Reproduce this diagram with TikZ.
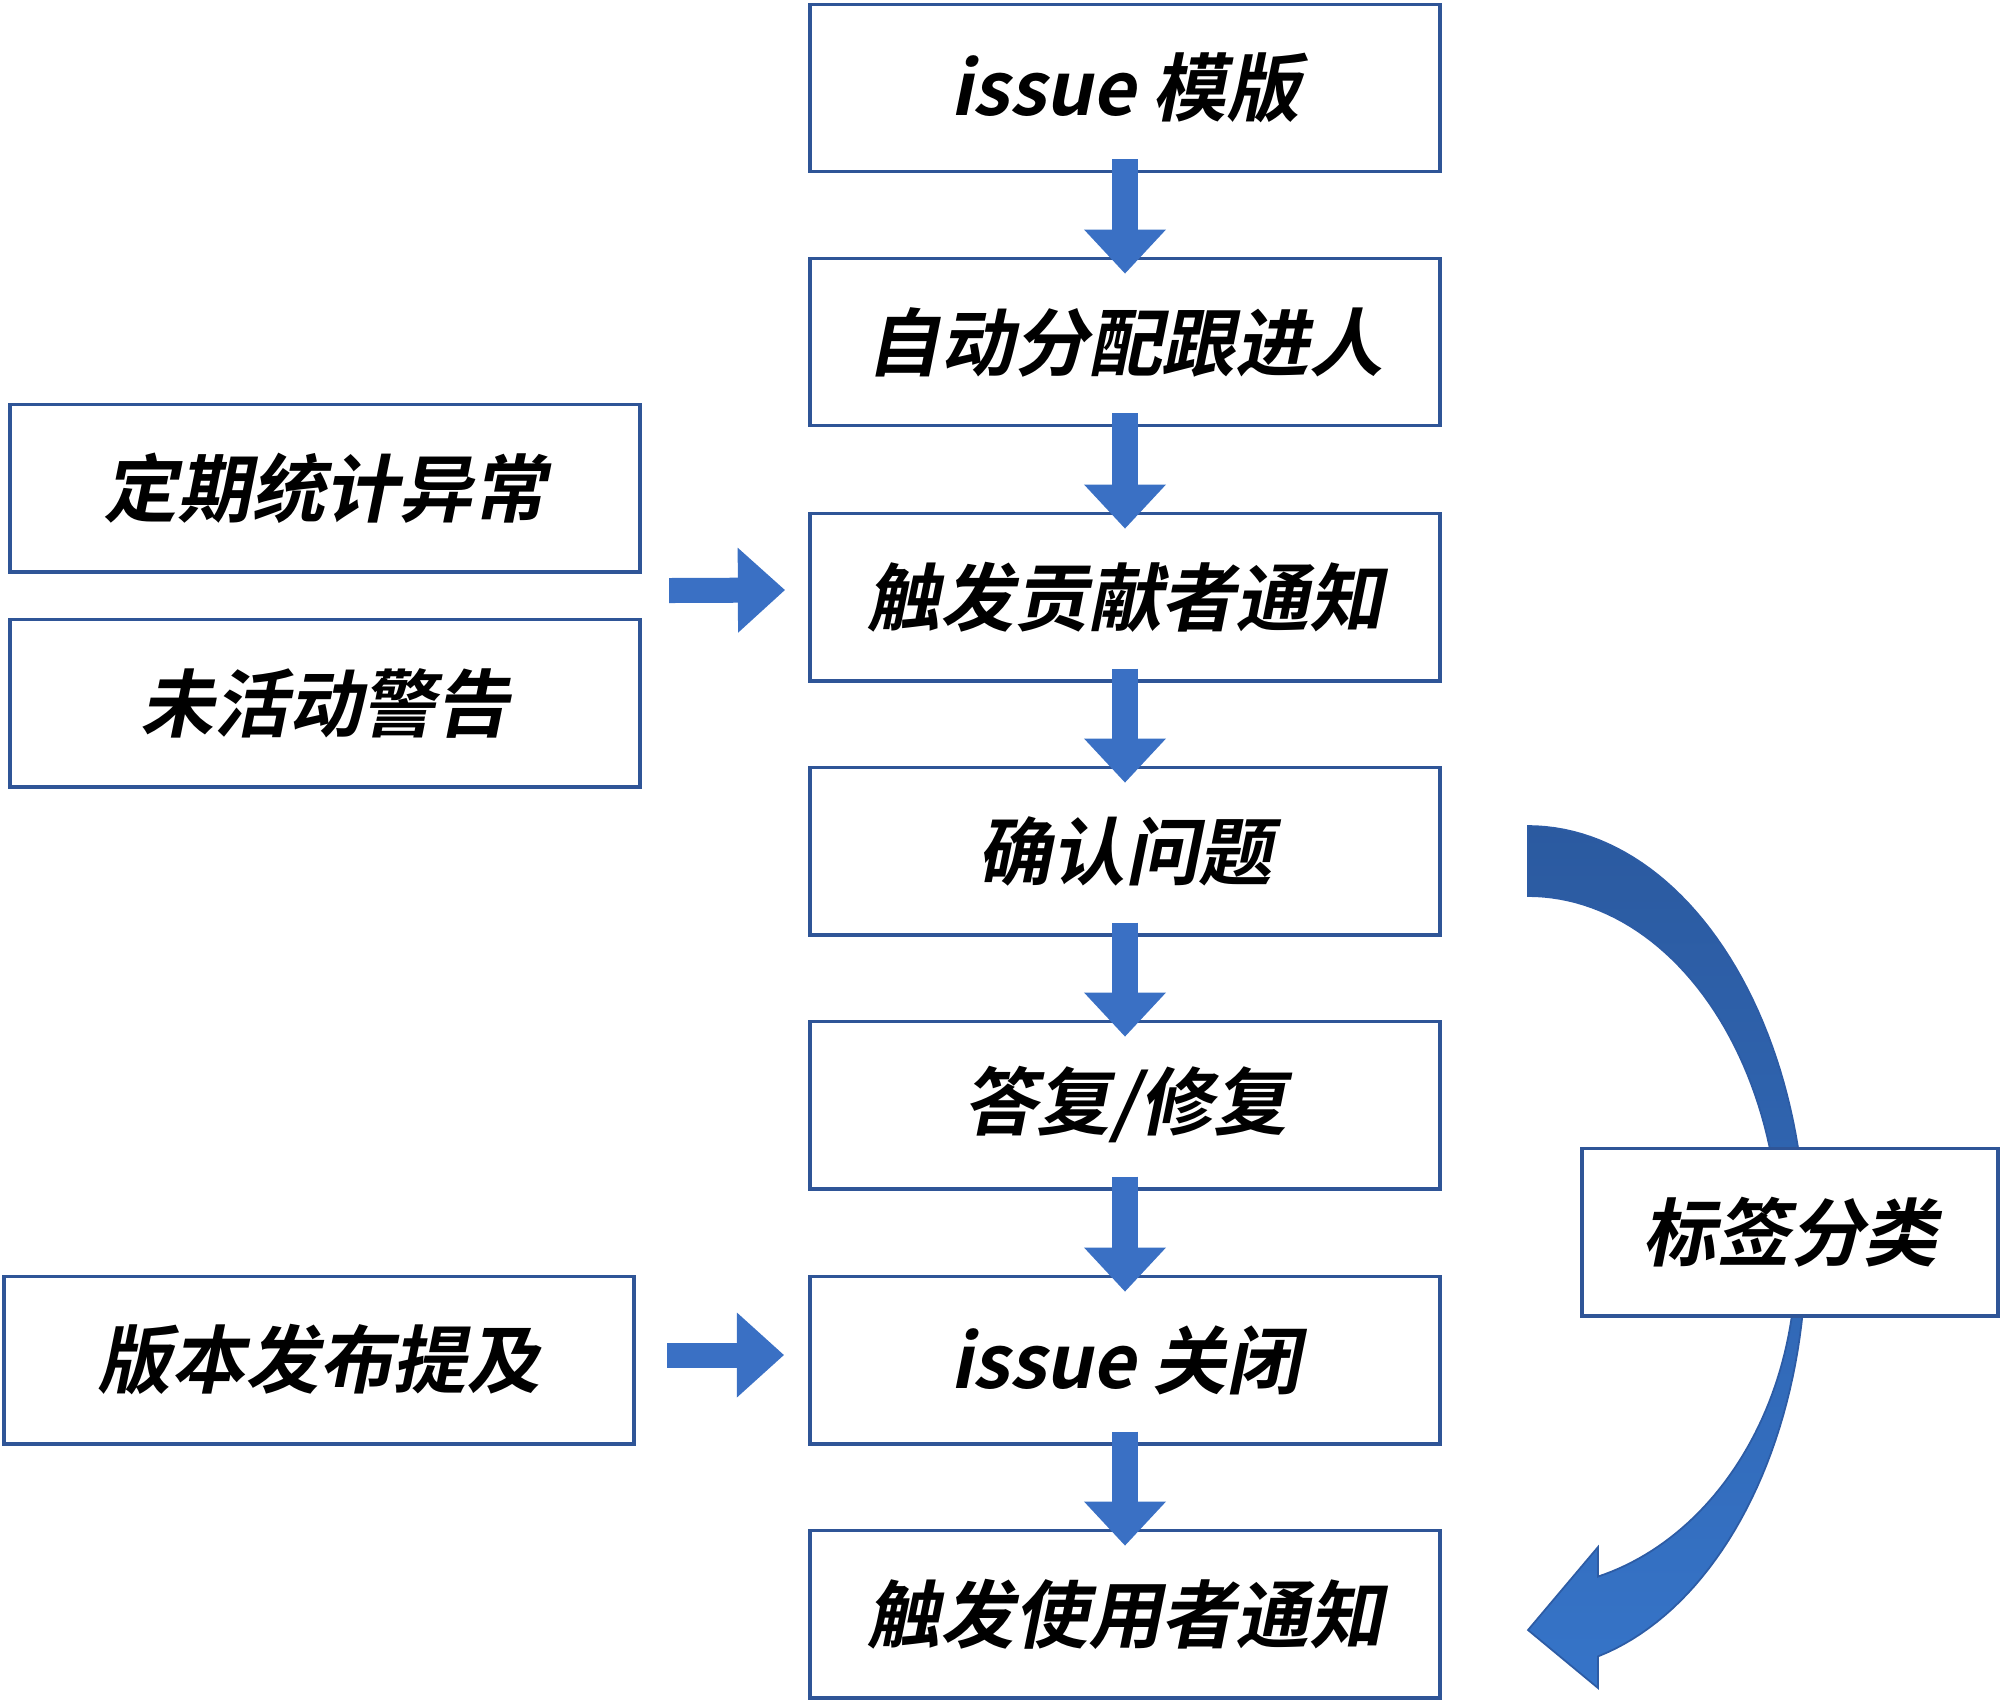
\documentclass[tikz,border=0pt]{standalone}
\usepackage{fontspec}
\usetikzlibrary{arrows.meta,calc}
\IfFontExistsTF{Noto Sans CJK SC Bold}
  {\newfontfamily\cjk{Noto Sans CJK SC Bold}[FakeSlant=0.2]}
  {\newfontfamily\cjk{Noto Sans CJK SC}[FakeSlant=0.2,FakeBold=2]}
\definecolor{boxblue}{RGB}{47,85,151}
\definecolor{arrowblue}{RGB}{58,112,196}
\definecolor{curvetop}{RGB}{43,90,160}
\definecolor{curvebot}{RGB}{54,116,200}
\definecolor{curveline}{RGB}{45,92,165}
\tikzset{
  box/.style={draw=boxblue, line width=1.1pt, fill=white, minimum width=6.3cm,
    minimum height=1.67cm, inner sep=0pt, font=\cjk\fontsize{21pt}{25pt}\selectfont},
  blockdown/.style={draw=arrowblue, line width=0.26cm,
    -{Triangle[length=0.44cm,width=0.82cm,line width=0pt]}},
  blockright/.style={draw=arrowblue, line width=0.25cm,
    -{Triangle[length=0.47cm,width=0.85cm,line width=0pt]}}
}
\begin{document}
\begin{tikzpicture}[x=0.01cm, y=-0.01cm]
\useasboundingbox (0,0) rectangle (2000,1705);

% curved arrow (drawn first, under the label box)
\shade[top color=curvetop, bottom color=curvebot, draw=curveline, line width=0.5pt]
  plot[domain=-90:75.42, samples=90] ({1528+278*cos(\x)},{1248+422*sin(\x)})
  -- (1598,1688) -- (1528,1630) -- (1598,1547) -- (1598,1576)
  -- plot[domain=74.86:0, samples=50] ({1528+268*cos(\x)},{1258+330*sin(\x)})
  -- plot[domain=0:-90, samples=50] ({1528+252*cos(\x)},{1247+351*sin(\x)})
  -- cycle;

% main column
\node[box] (b1) at (1125,88)   {issue 模版};
\node[box] (b2) at (1125,342)  {自动分配跟进人};
\node[box] (b3) at (1125,597)  {触发贡献者通知};
\node[box] (b4) at (1125,851)  {确认问题};
\node[box] (b5) at (1125,1105) {答复/修复};
\node[box] (b6) at (1125,1360) {issue 关闭};
\node[box] (b7) at (1125,1614) {触发使用者通知};

% left column
\node[box] (l1) at (325,488)  {定期统计异常};
\node[box] (l2) at (325,703)  {未活动警告};
\node[box] (l3) at (319,1360) {版本发布提及};

% right label
\node[box, minimum width=4.15cm] (tag) at (1790,1232) {标签分类};

% down arrows
\foreach \a/\b in {b1/b2,b2/b3,b3/b4,b4/b5,b5/b6,b6/b7}{
  \draw[blockdown] ($(\a.south)+(0,-14)$) -- ($(\b.north)+(0,17)$);
}

% right arrows
\coordinate (r1) at ($($(l1.east)!0.5!(l2.east)$)+(27,-5)$);
\draw[blockright] (r1) -- ($(b3.west)+(-23,-7)$);
\coordinate (r2) at ($(l3.east)+(31,-5)$);
\draw[blockright] (r2) -- ($(b6.west)+(-24,-5)$);
\end{tikzpicture}
\end{document}
